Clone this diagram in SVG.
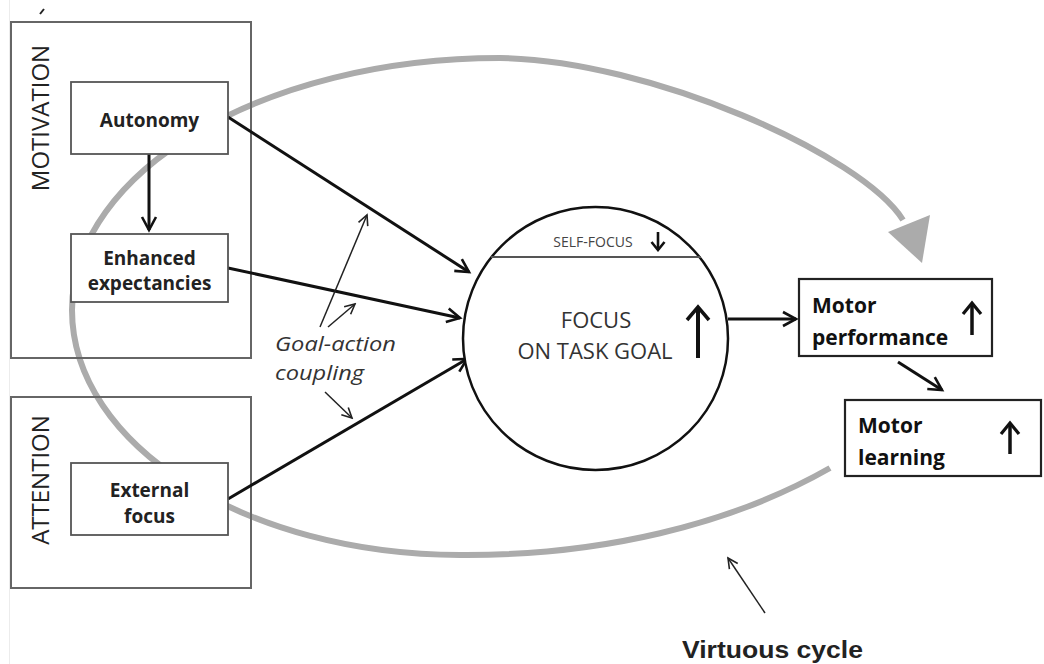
<svg xmlns="http://www.w3.org/2000/svg" width="1044" height="664" viewBox="0 0 1044 664">
<style>
  .outer { fill: none; stroke: #666; stroke-width: 2; }
  .inner { fill: #fff; stroke: #555; stroke-width: 1.8; }
  .mbox { fill: #fff; stroke: #222; stroke-width: 2.2; }
  .side { font-family: "Open Sans", "Liberation Sans", sans-serif; font-size: 24px; fill: #222; }
  .lbl { font-family: "Open Sans", "Liberation Sans", sans-serif; font-weight: bold; font-size: 19px; fill: #222; }
  .mlbl { font-family: "Open Sans", "Liberation Sans", sans-serif; font-weight: bold; font-size: 21px; fill: #111; }
  .ctr { font-family: "Open Sans", "Liberation Sans", sans-serif; font-size: 22px; fill: #333; }
  .small { font-family: "Open Sans", "Liberation Sans", sans-serif; font-size: 14px; fill: #444; }
  .ital { font-family: "Open Sans", "Liberation Sans", sans-serif; font-style: italic; font-size: 20px; fill: #333; }
  .vc { font-family: "Liberation Sans", Arial, sans-serif; font-weight: bold; font-size: 24px; fill: #222; }
  .conn { stroke: #111; stroke-width: 3; fill: none; marker-end: url(#ah); }
  .thin { stroke: #222; stroke-width: 1.5; fill: none; marker-end: url(#aht); }
  .up { stroke: #111; stroke-width: 4; fill: none; marker-end: url(#ahu); }
  .ups { stroke: #111; stroke-width: 3.5; fill: none; marker-end: url(#ahs); }
</style>
<defs>
  <marker id="ah" markerUnits="userSpaceOnUse" viewBox="-2 -9 18 18" markerWidth="18" markerHeight="18" refX="13" refY="0" orient="auto">
    <path d="M0,-7 L13,0 L0,7" fill="none" stroke="#111" stroke-width="2.6"/>
  </marker>
  <marker id="aht" markerUnits="userSpaceOnUse" viewBox="-2 -8 14 16" markerWidth="14" markerHeight="16" refX="10" refY="0" orient="auto">
    <path d="M0,-5 L10,0 L0,5" fill="none" stroke="#222" stroke-width="1.6"/>
  </marker>
  <marker id="ahu" markerUnits="userSpaceOnUse" viewBox="-2 -14 18 28" markerWidth="18" markerHeight="28" refX="13" refY="0" orient="auto">
    <path d="M0,-11 L13,0 L0,11" fill="none" stroke="#111" stroke-width="3.5"/>
  </marker>
  <marker id="ahs" markerUnits="userSpaceOnUse" viewBox="-2 -12 16 24" markerWidth="16" markerHeight="24" refX="11" refY="0" orient="auto">
    <path d="M0,-9 L11,0 L0,9" fill="none" stroke="#111" stroke-width="3.2"/>
  </marker>
  <marker id="ahd" markerUnits="userSpaceOnUse" viewBox="-2 -9 12 18" markerWidth="12" markerHeight="18" refX="8" refY="0" orient="auto">
    <path d="M0,-6.5 L8,0 L0,6.5" fill="none" stroke="#111" stroke-width="2.6"/>
  </marker>
</defs>
<rect width="1044" height="664" fill="#fff"/>
<line x1="9.5" y1="0" x2="9.5" y2="664" stroke="#ececec" stroke-width="1"/>
<line x1="40" y1="14" x2="44" y2="9" stroke="#222" stroke-width="2"/>

<!-- virtuous cycle gray arc -->
<g id="cycle">
  <path d="M830,468 C730,525 600,556 460,555 C246,555 72,445 72,310 C72,171 264,58 500,58 C650,60 862,155 903,220" fill="none" stroke="#ababab" stroke-width="6"/>
  <polygon points="888,232 930,215 922,263" fill="#ababab"/>
</g>

<g id="motivation">
  <rect class="outer" x="11" y="22" width="240" height="336"/>
  <text class="side" transform="translate(49,118) rotate(-90)" text-anchor="middle">MOTIVATION</text>
</g>
<g id="attention">
  <rect class="outer" x="11" y="397" width="240" height="191"/>
  <text class="side" transform="translate(49,480) rotate(-90)" text-anchor="middle">ATTENTION</text>
</g>

<g id="connectors">
  <line class="conn" x1="149" y1="154" x2="149" y2="230"/>
  <line class="conn" x1="228" y1="117" x2="469" y2="272"/>
  <line class="conn" x1="228" y1="268" x2="460" y2="318"/>
  <line class="conn" x1="228" y1="499" x2="467" y2="359"/>
  <line class="conn" x1="728" y1="319" x2="796" y2="319"/>
  <line class="conn" x1="898" y1="362" x2="942" y2="390"/>
  <line class="thin" x1="320" y1="327" x2="367" y2="215"/>
  <line class="thin" x1="328" y1="327" x2="355" y2="304"/>
  <line class="thin" x1="325" y1="392" x2="352" y2="418"/>
  <line class="thin" x1="765" y1="613" x2="728" y2="558"/>
</g>

<g id="autonomy">
  <rect class="inner" x="71" y="82" width="157" height="72"/>
  <text class="lbl" x="149.5" y="127" text-anchor="middle" font-size="20">Autonomy</text>
</g>
<g id="enhanced">
  <rect class="inner" x="71" y="234" width="157" height="68"/>
  <text class="lbl" x="149.5" y="265" text-anchor="middle">Enhanced</text>
  <text class="lbl" x="149.5" y="290" text-anchor="middle">expectancies</text>
</g>
<g id="external">
  <rect class="inner" x="71" y="463" width="157" height="72"/>
  <text class="lbl" x="149.5" y="497" text-anchor="middle">External</text>
  <text class="lbl" x="149.5" y="523" text-anchor="middle">focus</text>
</g>

<g id="goal-action">
  <text class="ital" x="275" y="351" textLength="121" lengthAdjust="spacingAndGlyphs">Goal-action</text>
  <text class="ital" x="275" y="380" textLength="89" lengthAdjust="spacingAndGlyphs">coupling</text>
</g>

<g id="focus">
  <ellipse cx="595.5" cy="338.5" rx="132.5" ry="131.5" fill="#fff" stroke="#111" stroke-width="2.5"/>
  <line x1="491" y1="257" x2="701" y2="257" stroke="#555" stroke-width="2"/>
  <text class="small" x="593" y="247" text-anchor="middle">SELF-FOCUS</text>
  <line x1="658" y1="232" x2="658" y2="250" stroke="#111" stroke-width="2.6" marker-end="url(#ahd)"/>
  <text class="ctr" x="596" y="328" text-anchor="middle">FOCUS</text>
  <text class="ctr" x="595" y="359" text-anchor="middle">ON TASK GOAL</text>
  <line class="up" x1="698" y1="358" x2="698" y2="307"/>
</g>

<g id="motor-performance">
  <rect class="mbox" x="799" y="279" width="193" height="77"/>
  <text class="mlbl" x="812" y="313">Motor</text>
  <text class="mlbl" x="812" y="345" font-size="22">performance</text>
  <line class="ups" x1="972" y1="335" x2="972" y2="303"/>
</g>

<g id="motor-learning">
  <rect class="mbox" x="845" y="400" width="196" height="76"/>
  <text class="mlbl" x="858" y="433">Motor</text>
  <text class="mlbl" x="858" y="465">learning</text>
  <line class="ups" x1="1010" y1="454" x2="1010" y2="423"/>
</g>

<g id="virtuous-label">
  <text class="vc" x="682" y="658" textLength="181" lengthAdjust="spacingAndGlyphs">Virtuous cycle</text>
</g>
</svg>
